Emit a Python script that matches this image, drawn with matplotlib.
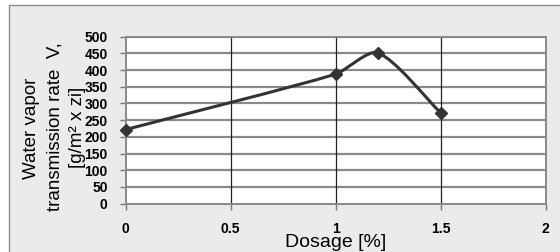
import matplotlib.pyplot as plt
from matplotlib.patches import Rectangle, PathPatch
from matplotlib.path import Path
from matplotlib.transforms import IdentityTransform
import numpy as np

# data
dosage = [0, 1, 1.2, 1.5]
wvtr = [222, 388, 452, 272]
x_ticks = [0, 0.5, 1, 1.5, 2]
x_tick_labels = ["0", "0.5", "1", "1.5", "2"]
y_ticks = list(range(0, 501, 50))

plt.rcParams['font.family'] = ['Liberation Sans', 'DejaVu Sans']

W, H = 560, 252
fig = plt.figure(figsize=(5.6, 2.52), dpi=100, facecolor='white')

# chart area frame (grey background, border running off the right/bottom)
bg = Rectangle((8.5 / W, -0.1), 1.2, 1 - 4.5 / H + 0.1,
               transform=fig.transFigure, facecolor='#ebebeb',
               edgecolor='#8c8c8c', linewidth=1.0, zorder=-5)
fig.patches.append(bg)

ax = fig.add_axes([125.7 / W, 1 - 203.7 / H, 420 / W, 167 / H])
ax.set_zorder(2)
ax.set_facecolor('white')
ax.set_xlim(0, 2)
ax.set_ylim(0, 500)

ax.set_xticks(x_ticks)
ax.set_xticklabels(x_tick_labels)
ax.set_yticks(y_ticks)
for lbl in ax.get_xticklabels() + ax.get_yticklabels():
    lbl.set_fontweight('bold')
    lbl.set_fontsize(10)
ax.tick_params(axis='both', direction='out', length=4, width=1, color='#777777')
ax.tick_params(axis='x', pad=9)
ax.tick_params(axis='y', pad=9)

# gridlines: grey horizontals, dark verticals
for y in y_ticks[1:]:
    ax.axhline(y, color='#8a8a8a', linewidth=1.6, zorder=1)
for x in x_ticks[1:-1]:
    ax.axvline(x, color='#222222', linewidth=0.9, zorder=1)
for s in ax.spines.values():
    s.set_color('#8a8a8a')
    s.set_linewidth(1.4)

# smoothed line (Excel style) built from the data points
fig.canvas.draw()
pts = ax.transData.transform(np.column_stack([dosage, wvtr]))
verts = [pts[0]]
codes = [Path.MOVETO]
n = len(pts)
for i in range(n - 1):
    p0 = pts[i - 1] if i > 0 else pts[i]
    p1 = pts[i]
    p2 = pts[i + 1]
    p3 = pts[i + 2] if i + 2 < n else pts[i + 1]
    seg = np.hypot(*(p2 - p1))
    t1 = (p2 - p0) / np.hypot(*(p2 - p0))
    t2 = (p3 - p1) / np.hypot(*(p3 - p1))
    c1 = p1 + t1 * seg * 0.22
    c2 = p2 - t2 * seg * 0.22
    verts += [c1, c2, p2]
    codes += [Path.CURVE4] * 3
ax.add_patch(PathPatch(Path(verts, codes), transform=IdentityTransform(),
                       facecolor='none', edgecolor='#333333', linewidth=2.2,
                       zorder=3, clip_on=False))
ax.plot(dosage, wvtr, linestyle='none', marker='D', markersize=6.5,
        color='#333333', zorder=4, clip_on=False)

ax.set_xlabel("Dosage [%]", fontsize=14, labelpad=-1)
fig.text(32 / W, 1 - 128 / H, "Water vapor", rotation=90, ha='center',
         va='center', fontsize=13.5)
fig.text(55 / W, 1 - 127 / H, "transmission rate  V,", rotation=90,
         ha='center', va='center', fontsize=13.5)
fig.text(77 / W, 1 - 127 / H, "[g/m² x zi]", rotation=90, ha='center',
         va='center', fontsize=13.5)

fig.savefig("out.png", dpi=100, facecolor=fig.get_facecolor())
